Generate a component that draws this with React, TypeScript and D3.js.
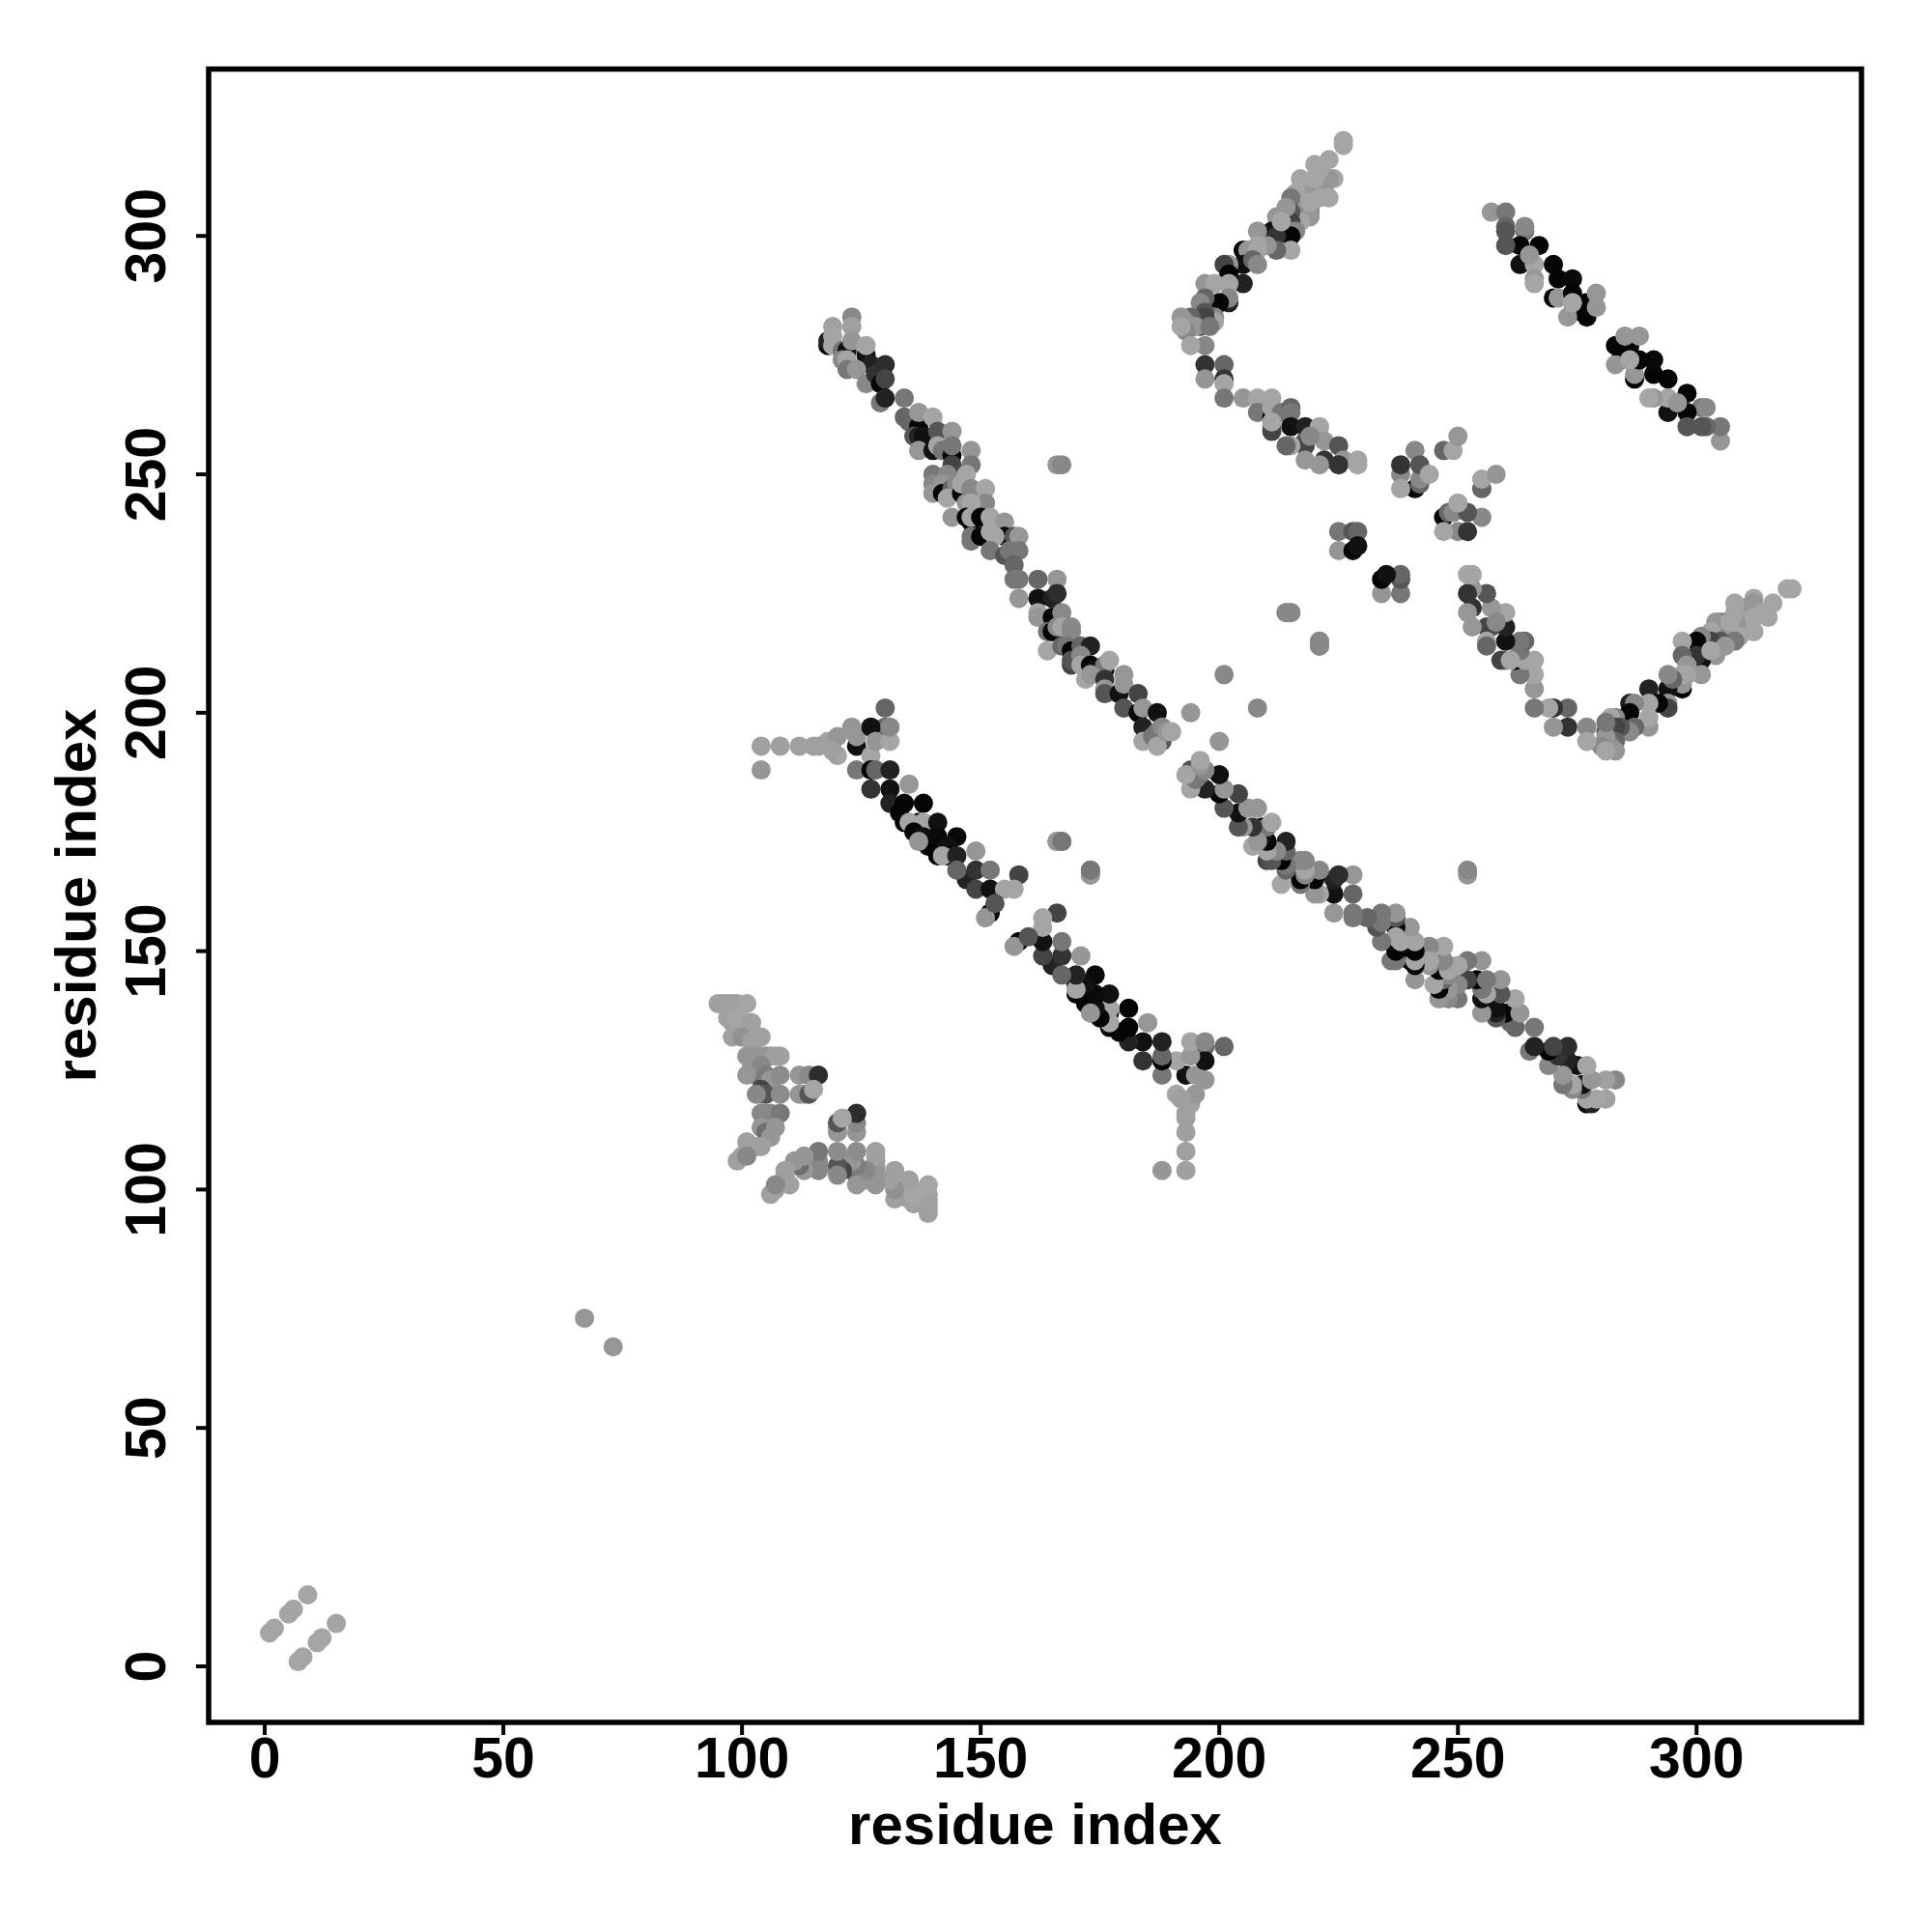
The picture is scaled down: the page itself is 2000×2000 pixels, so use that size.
import React from "react";
import * as d3 from "d3";

// Each contact is [residue i, residue j, grey level]; the map is symmetric so only i<j is listed.
const nTerminal = [[1,7,165],[2,8,165],[5,11,165],[6,12,165],[9,15,165],[67,73,150]];
const hairpin = [
[95,139,160],[96,139,160],[97,139,160],[98,139,160],[99,139,160],[101,139,165],
[97,136,160],[98,135,160],[99,136,165],[101,135,165],[102,135,160],
[98,132,160],[100,132,145],[102,131,160],[104,132,160],
[103,127,34],[102,125,51],[104,125,85],[101,128,150],[102,128,150],[104,128,150],[105,128,150],[106,128,150],[107,128,160],[108,128,160],
[103,124,102],[102,126,150],[104,126,136],[101,124,150],[105,124,125],[106,123,150],[108,124,140],
[104,120,150],[104,121,68],[105,120,85],[103,120,136],[108,120,140],
[112,124,150],[114,124,136],[116,124,45],[112,120,150],[113,120,150],[114,120,85],[115,121,165],
[104,116,136],[105,116,136],[106,116,136],[108,116,119],[104,113,150],[105,112,110],[107,113,150],[106,111,150],
[101,110,160],[103,109,160],[104,109,160],[99,106,160],[100,107,160],[101,107,136]
];
const lowerStrand = [
[104,193,160],[108,193,160],[112,193,160],[115,193,160],[116,193,160],[104,188,150],[118,194,160],
[120,195,150],[120,191,165],[119,192,160],[124,193,17],[123,197,150],[124,195,150],[127,191,165],
[130,197,102],[127,197,17],[128,194,150],[131,194,165],[131,197,136],[130,201,102],
[124,188,119],[127,188,5],[128,188,102],[131,188,34],[127,184,51],[131,184,17],[135,185,150],
[131,181,34],[134,181,5],[134,177,5],[133,179,5],[138,181,5],[137,177,17],[139,176,5],[135,177,165],[138,177,165],[141,177,17],
[141,170,5],[139,172,5],[136,175,5],[138,174,17],[137,173,150],[141,174,10],[145,174,10],[143,172,17],[143,170,5],[142,170,165],[145,170,34],[149,171,150],
[147,165,34],[145,167,102],[149,167,51],[152,167,119],[158,166,68],[149,163,68],[152,163,17],[155,163,165],[157,163,165],
[152,158,5],[151,157,150],[153,160,85]
];
const centralStrand = [
[118,277,5],[118,278,34],[119,281,160],[119,279,165],[119,277,165],[121,276,119],[123,283,136],[123,281,160],[122,276,17],[123,278,150],[126,275,17],
[126,277,165],[121,274,136],[122,274,165],[122,272,119],[127,273,34],[124,272,150],[126,269,136],[128,271,51],[129,269,5],[130,273,45],[130,270,68],
[129,265,119],[130,266,34],[134,266,119],[134,262,102],[135,261,102],[137,260,5],[137,263,150],[140,262,165],[136,258,85],[137,258,34],[138,258,17],
[141,259,85],[144,259,150],[137,255,150],[140,255,17],[141,256,165],[142,255,119],[144,254,5],[144,256,119],
[148,255,150],[148,252,119],[144,252,68],[140,250,119],[140,248,136],[140,246,150],[143,250,136],[142,248,150],[142,246,5],[144,247,102],[145,248,136],[143,245,165],[144,241,150],
[147,250,165],[146,246,5],[146,248,165],[147,244,150],[148,247,136],[151,247,165],[151,244,136],[148,244,165],[147,241,5],[148,240,5],[148,241,165],[150,241,5],[152,241,165],[155,240,150],
[148,237,119],[148,236,119],[150,237,5],[152,238,165],[155,237,5],[153,237,165],[157,237,85],[158,237,150],[152,234,119],[155,233,85],[156,234,119],[158,234,119],[157,231,102],
[157,228,119],[158,228,119],[162,228,102],[166,228,150],[158,224,150],[162,224,17],[165,224,34],[166,225,45],
[162,221,165],[162,220,150],[165,220,5],[167,221,136],[164,217,119],[165,217,5],[166,218,136],[167,218,165],[169,218,136],[169,217,136],
[164,213,165],[167,214,102],[168,214,119],[169,213,5],[171,214,102],[173,214,34],[169,210,68],[169,211,85],[171,212,136],[171,210,165],[173,210,5],[174,209,17],[176,209,5],[176,210,119],[177,211,165],
[172,207,165],[173,208,150],[176,207,51],[176,205,150],[176,204,85],[179,204,17],[180,206,150],[180,208,150],[183,204,68],[180,201,85],[183,200,5],[184,201,150],[187,200,17],
[184,197,34],[184,194,165],[186,195,119],[188,194,85],[187,196,119],[188,197,136],[187,193,165],[189,196,150],[190,196,165]
];
const strays = [[194,200,150],[201,208,136],[166,252,150],[167,252,136],[166,173,150],[167,173,119],[173,166,150],[173,167,119],[214,221,136],[215,221,136],[221,214,136],[221,215,136]];
const upperStrand = [
[226,320,165],[226,319,165],[219,308,150],[220,310,136],[219,306,150],[217,306,150],[218,309,150],[222,310,150],[223,316,165],[224,312,165],[223,312,150],[221,314,165],[223,308,165],[221,308,165],[220,315,165],[220,312,165],[217,312,165],[219,305,136],[219,304,150],[219,307,165],[216,309,165],[215,308,119],[217,303,165],
[215,305,85],[215,303,68],[212,304,150],[214,306,150],[216,301,136],[215,300,5],[215,297,165],[211,301,17],[212,300,51],[213,303,165],[212,297,102],[210,298,150],[208,301,150],[208,298,165],
[205,297,5],[206,297,150],[208,297,165],[205,294,17],[207,295,102],[208,294,136],[205,290,34],[202,294,150],[201,294,68],[202,292,5],[202,290,165],[197,290,150],[199,290,165],
[202,286,34],[202,287,136],[199,285,5],[200,286,5],[197,287,102],[196,286,136],[199,283,136],[199,282,165],[197,284,85],[197,283,68],[194,283,102],[193,282,136],[196,281,85],[195,281,150],[192,283,150],[193,280,136],[192,281,165],[198,281,119]
];
const turnDown = [
[197,277,136],[194,277,165],[197,273,51],[197,270,150],[201,273,102],[201,270,51],[201,269,165],[201,266,119],
[205,266,150],[208,266,165],[211,266,165],[208,263,119],[211,262,5],[211,264,165],[213,263,119],[215,264,102],[215,263,119],[215,260,17],[211,260,119],[211,259,68],[211,261,165],[218,260,34],[221,260,165],
[222,257,150],[218,257,85],[218,256,68],[215,256,165],[214,256,102],[225,256,85],[226,253,150],[225,252,51],[222,253,51],[221,252,150],[218,253,150],[219,258,136],[229,253,165],[229,252,165]
];
const cross = [
[225,238,119],[228,238,85],[229,238,102],[225,234,150],[228,234,5],[229,235,17],
[238,250,136],[238,252,51],[241,255,136],[241,247,5],[242,248,102],[242,249,136],[238,247,165],[242,252,85],[244,250,165],
[247,255,102],[249,255,165],[250,258,150]
];
const rightStrand = [
[257,305,150],[260,305,119],[260,302,102],[260,301,85],[264,301,119],[264,302,136],[263,298,5],[260,298,85],[267,298,5],
[263,294,17],[266,294,165],[265,296,150],[270,294,5],[266,291,150],[266,290,165],[271,291,5],[274,291,10],[270,287,5],[271,287,150],[274,288,5],
[274,284,5],[273,283,150],[277,283,5],[277,286,5],[274,286,165],[279,288,150],[279,285,150]
];

const tickValues = [0,50,100,150,200,250,300];
const axisLabel = "residue index";

const contacts = [nTerminal,hairpin,lowerStrand,centralStrand,strays,upperStrand,turnDown,cross,rightStrand].flat();
const mirrored = contacts.flatMap(([i,j,g]) => [[i,j,g],[j,i,g]]);

const x = d3.scaleLinear().domain([-11.75,334.55]).range([216,1927]);
const y = d3.scaleLinear().domain([-11.75,335]).range([1783,71.5]);
const FONT = "'Liberation Sans', Arial, sans-serif";

export default function App() {
  return (
    <svg width={2000} height={2000} style={{position:"absolute",left:0,top:0,background:"#fff"}}>
      {mirrored.map(([a,b,g],k)=>(
        <circle key={k} cx={x(a)} cy={y(b)} r={10} fill={d3.rgb(g,g,g).formatHex()} />
      ))}
      <rect x={216} y={71.5} width={1711} height={1711.5} fill="none" stroke="#000" strokeWidth={5.5} />
      {tickValues.map(t=>(
        <g key={t}>
          <line x1={x(t)} x2={x(t)} y1={1783} y2={1796} stroke="#000" strokeWidth={4} />
          <line y1={y(t)} y2={y(t)} x1={216} x2={203} stroke="#000" strokeWidth={4} />
          <text x={x(t)} y={1840} textAnchor="middle" fontFamily={FONT} fontWeight="bold" fontSize={59}>{t}</text>
          <text transform={`translate(171,${y(t)}) rotate(-90)`} textAnchor="middle" fontFamily={FONT} fontWeight="bold" fontSize={59}>{t}</text>
        </g>
      ))}
      <text x={1071.5} y={1909} textAnchor="middle" fontFamily={FONT} fontWeight="bold" fontSize={60}>{axisLabel}</text>
      <text transform="translate(99,927) rotate(-90)" textAnchor="middle" fontFamily={FONT} fontWeight="bold" fontSize={60}>{axisLabel}</text>
    </svg>
  );
}
